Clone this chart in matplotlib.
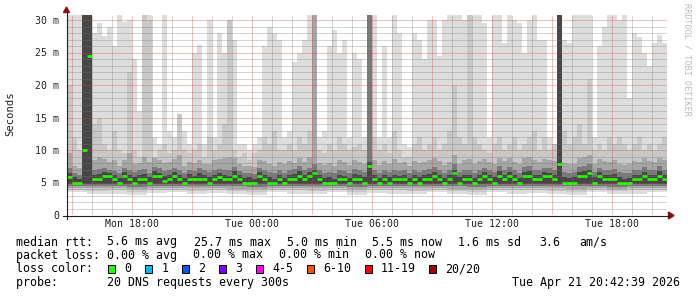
import numpy as np
import pandas as pd
import matplotlib
matplotlib.use("Agg")
import matplotlib.pyplot as plt
import matplotlib.dates as mdates
from matplotlib.patches import Rectangle, Polygon
from matplotlib.lines import Line2D

# ---------------- data (15-minute steps, ms) ----------------
start_time = "2026-04-20 14:45"
n_steps = 120

median_ms = [
    5.8, 5.0, 5.0, 10.0, 24.5, 5.5, 5.5, 6.0, 6.0, 5.5,
    5.0, 6.0, 5.5, 5.0, 5.5, 5.5, 5.0, 6.0, 6.0, 5.3,
    5.5, 6.0, 5.5, 5.0, 5.5, 5.5, 5.5, 5.5, 5.0, 5.5,
    5.8, 5.5, 5.5, 6.0, 5.5, 5.0, 5.0, 5.0, 6.0, 5.5,
    5.0, 5.0, 5.5, 5.0, 5.5, 5.5, 6.0, 5.5, 6.0, 6.4,
    5.5, 5.0, 5.0, 5.0, 5.5, 5.5, 5.0, 5.5, 5.5, 5.0,
    7.5, 5.5, 5.0, 5.5, 5.0, 5.5, 5.5, 5.5, 5.0, 5.5,
    5.0, 5.5, 5.5, 6.0, 5.5, 5.0, 5.5, 6.4, 5.0, 5.5,
    5.5, 5.0, 5.5, 6.0, 5.5, 5.0, 6.0, 5.5, 6.0, 5.5,
    5.0, 6.0, 6.0, 5.5, 5.5, 6.0, 6.0, 5.5, 7.8, 5.0,
    5.0, 5.0, 6.0, 6.0, 6.4, 5.0, 6.0, 5.5, 5.5, 5.5,
    5.0, 5.0, 5.0, 5.5, 5.5, 6.0, 5.5, 5.5, 6.0, 5.5,
]

smoke_max = [
    31, 31, 31, 31, 31, 28, 29.5, 27.5, 29, 26,
    31, 29.7, 30, 24, 16, 31, 31, 12, 11, 31,
    13, 12, 15.5, 13, 11, 25, 26.2, 11, 30, 12,
    28, 25, 30, 27, 11, 11, 10, 11, 12, 26,
    29, 28, 27, 12, 13, 23.5, 25, 27, 31, 31,
    12, 13, 26, 28.5, 25, 27, 12, 25, 24, 12,
    31, 31, 12, 26, 12, 31, 28, 11, 10.5, 28,
    27, 24, 30, 30, 24.4, 30, 31, 31, 31, 30,
    31, 31, 31, 29.5, 12, 31, 31, 26.4, 31, 30,
    29.5, 25, 30, 31, 27, 27, 12, 11, 31, 27,
    26.5, 31, 31, 31, 31, 12, 26, 29, 31, 31,
    30, 31, 18, 28, 27.4, 25, 23, 26.4, 27.7, 26.4,
]

smoke_hi2 = [
    20, 12, 10, 31, 31, 14, 15, 11, 10, 13,
    10, 9.5, 22, 10, 9, 31, 30, 9, 10, 11,
    9.5, 10, 15.5, 10, 9.5, 10, 11, 9, 12, 10,
    11, 14, 30, 10, 9, 9.5, 8.5, 9.5, 10, 12,
    11, 13, 10, 10, 11, 10, 12, 11, 13, 31,
    10, 9.5, 11, 10, 12, 11, 10, 10.5, 11, 10,
    31, 12, 10, 11, 9.5, 13, 10, 9, 9, 11,
    12, 10, 11, 12, 10, 11, 13, 20, 12, 11,
    31, 12, 11, 10, 9.5, 11, 12, 10, 11, 12,
    10, 11, 12, 13, 10, 12, 10, 11, 31, 13,
    11, 12, 14, 11, 21, 10, 11, 10, 12, 11,
    12, 11, 10, 11, 12, 10, 11, 10, 11, 12,
]

smoke_hi3 = [
    9.5, 7.5, 7.2, 31, 31, 8.5, 9.0, 8.6, 8.2, 8.4,
    7.6, 8.4, 9.5, 7.8, 8.0, 9.0, 8.2, 8.8, 8.4, 8.0,
    8.2, 8.6, 9.2, 7.6, 8.1, 8.0, 8.5, 7.9, 7.8, 8.4,
    8.6, 8.8, 9.0, 8.7, 7.9, 7.5, 7.6, 7.4, 8.5, 8.3,
    7.8, 7.6, 8.2, 7.8, 8.3, 8.0, 8.8, 8.2, 8.9, 31,
    8.0, 7.7, 8.0, 7.6, 8.4, 8.1, 7.7, 8.4, 8.2, 7.8,
    31, 8.4, 7.7, 8.3, 7.9, 8.6, 8.0, 8.2, 7.6, 8.3,
    8.0, 8.2, 8.4, 8.8, 8.3, 7.7, 8.2, 9.2, 7.9, 8.4,
    8.6, 7.8, 8.3, 8.6, 8.1, 7.9, 8.8, 8.3, 8.7, 8.2,
    7.8, 8.7, 8.9, 8.4, 8.2, 8.6, 8.5, 8.3, 31, 8.0,
    7.8, 7.9, 8.8, 8.9, 9.3, 7.8, 8.6, 8.3, 8.2, 8.4,
    7.9, 7.7, 7.8, 8.3, 8.2, 8.7, 8.3, 8.1, 8.8, 8.4,
]

smoke_hi4 = [
    7.2, 6.4, 6.2, 31, 31, 7.0, 7.1, 7.3, 7.0, 6.8,
    6.5, 7.2, 7.0, 6.6, 6.9, 7.1, 6.5, 7.4, 7.2, 6.8,
    7.0, 7.3, 6.9, 6.4, 7.0, 6.8, 7.2, 6.9, 6.6, 7.0,
    7.1, 7.0, 6.9, 7.4, 6.8, 6.4, 6.5, 6.3, 7.2, 6.9,
    6.6, 6.4, 7.0, 6.5, 6.9, 7.1, 7.5, 6.9, 7.3, 7.8,
    6.9, 6.5, 6.6, 6.4, 7.0, 6.8, 6.5, 7.1, 6.9, 6.6,
    31, 7.0, 6.5, 6.9, 6.6, 7.0, 6.8, 6.9, 6.5, 7.0,
    6.6, 6.9, 7.1, 7.4, 7.0, 6.5, 6.9, 7.8, 6.6, 7.0,
    6.9, 6.5, 7.0, 7.3, 6.9, 6.6, 7.5, 7.0, 7.4, 6.9,
    6.5, 7.4, 7.5, 7.0, 6.9, 7.3, 7.2, 7.0, 31, 6.6,
    6.5, 6.6, 7.4, 7.5, 7.8, 6.6, 7.3, 7.0, 6.9, 7.1,
    6.6, 6.4, 6.5, 7.0, 6.9, 7.4, 7.0, 6.9, 7.5, 7.0,
]

smoke_hi5 = [
    6.4, 5.8, 5.6, 31, 31, 6.2, 6.3, 6.6, 6.5, 6.1,
    5.7, 6.6, 6.2, 5.8, 6.1, 6.3, 5.8, 6.7, 6.5, 6.0,
    6.2, 6.6, 6.1, 5.7, 6.3, 6.0, 6.4, 6.1, 5.8, 6.2,
    6.4, 6.2, 6.0, 6.7, 6.1, 5.7, 5.8, 5.6, 6.6, 6.2,
    5.8, 5.6, 6.2, 5.7, 6.1, 6.3, 6.7, 6.1, 6.6, 7.0,
    6.1, 5.7, 5.8, 5.6, 6.2, 6.0, 5.7, 6.3, 6.1, 5.8,
    8.2, 6.2, 5.7, 6.1, 5.8, 6.2, 6.0, 6.1, 5.7, 6.2,
    5.8, 6.1, 6.3, 6.6, 6.2, 5.7, 6.1, 7.0, 5.8, 6.2,
    6.1, 5.7, 6.2, 6.6, 6.1, 5.8, 6.7, 6.2, 6.6, 6.1,
    5.7, 6.6, 6.7, 6.2, 6.1, 6.6, 6.5, 6.2, 31, 5.8,
    5.7, 5.8, 6.6, 6.7, 7.0, 5.8, 6.6, 6.2, 6.1, 6.3,
    5.8, 5.6, 5.7, 6.2, 6.1, 6.6, 6.2, 6.1, 6.7, 6.2,
]

# lower side of the smoke, read hourly (30 hours)
smoke_lo5_hourly = [4.8, 4.7, 4.8, 4.7, 4.7, 4.8, 4.7, 4.8, 4.7, 4.7, 4.8, 4.7, 4.7, 4.8, 4.7,
                    4.8, 4.7, 4.7, 4.8, 4.7, 4.7, 4.8, 4.7, 4.8, 4.7, 4.7, 4.8, 4.7, 4.7, 4.8]
smoke_lo4_hourly = [4.5, 4.4, 4.5, 4.3, 4.4, 4.5, 4.4, 4.5, 4.4, 4.3, 4.5, 4.4, 4.4, 4.5, 4.3,
                    4.5, 4.4, 4.4, 4.5, 4.4, 4.3, 4.5, 4.4, 4.5, 4.4, 4.4, 4.5, 4.3, 4.4, 4.5]
smoke_lo3_hourly = [4.2, 4.1, 4.2, 4.0, 4.1, 4.2, 4.1, 4.2, 4.0, 4.0, 4.2, 4.1, 4.1, 4.2, 4.0,
                    4.2, 4.1, 4.1, 4.2, 4.0, 4.0, 4.2, 4.1, 4.2, 4.1, 4.0, 4.2, 4.0, 4.1, 4.2]
smoke_lo2_hourly = [3.9, 3.7, 3.8, 3.6, 3.8, 3.9, 3.7, 3.8, 3.7, 3.6, 3.9, 3.8, 3.7, 3.9, 3.6,
                    3.9, 3.8, 3.7, 3.9, 3.7, 3.6, 3.9, 3.8, 3.9, 3.7, 3.6, 3.9, 3.7, 3.8, 3.9]
smoke_min_hourly = [3.5, 3.2, 3.3, 3.1, 3.4, 3.5, 3.2, 3.4, 3.3, 3.1, 3.5, 3.3, 3.2, 3.5, 3.1,
                    3.4, 3.3, 3.2, 3.5, 3.2, 3.1, 3.5, 3.3, 3.4, 3.2, 3.1, 3.5, 3.2, 3.3, 3.5]

y_ticks = [0, 5, 10, 15, 20, 25, 30]
y_tick_labels = ["0", "5 m", "10 m", "15 m", "20 m", "25 m", "30 m"]
x_tick_times = ["2026-04-20 18:00", "2026-04-21 00:00", "2026-04-21 06:00",
                "2026-04-21 12:00", "2026-04-21 18:00"]
x_tick_labels = ["Mon 18:00", "Tue 00:00", "Tue 06:00", "Tue 12:00", "Tue 18:00"]

loss_labels = ["0", "1", "2", "3", "4-5", "6-10", "11-19", "20/20"]
loss_colors = ["#26ff00", "#00b8ff", "#0059ff", "#7e00ff", "#ff00ff",
               "#ff5500", "#ff0000", "#a10000"]

rtt_label = "median rtt:"
rtt_parts = ["5.6 ms avg", "25.7 ms max", "5.0 ms min", "5.5 ms now", "1.6 ms sd", "3.6", "am/s"]
loss_label = "packet loss:"
loss_parts = ["0.00 % avg", "0.00 % max", "0.00 % min", "0.00 % now"]
color_label = "loss color:"
line_probe = "probe:       20 DNS requests every 300s"
stamp = "Tue Apr 21 20:42:39 2026"
watermark = "RRDTOOL / TOBI OETIKER"

# ---------------- figure ----------------
W, H = 697, 297
fig = plt.figure(figsize=(W / 100, H / 100), dpi=100)
fig.patch.set_facecolor("white")
MONO = "DejaVu Sans Mono"


def fx(x):
    return x / W


def fy(y):
    return 1 - y / H


ymax = 200 / 6.5
ax = fig.add_axes([fx(67), fy(215), (667 - 67) / W, 200 / H])
ax.set_facecolor("white")

times = pd.date_range(start_time, periods=n_steps + 1, freq="15min")
t = mdates.date2num(times.to_pydatetime())


def ext(a):
    a = np.asarray(a, dtype=float)
    return np.append(a, a[-1])


def hourly(a):
    return np.repeat(np.asarray(a, dtype=float), 4)[:n_steps]


levels = [
    (hourly(smoke_min_hourly), smoke_max, "#dddddd"),
    (hourly(smoke_lo2_hourly), smoke_hi2, "#c8c8c8"),
    (hourly(smoke_lo3_hourly), smoke_hi3, "#a6a6a6"),
    (hourly(smoke_lo4_hourly), smoke_hi4, "#7a7a7a"),
    (hourly(smoke_lo5_hourly), smoke_hi5, "#474747"),
]
for i, (lo, hi, col) in enumerate(levels):
    ax.fill_between(t, ext(lo), ext(hi), step="post", color=col, lw=0,
                    zorder=1 + i * 0.1, antialiased=False)

# grid (dotted, 1px)
minor_col = (0.45, 0.45, 0.45, 0.3)
major_col = (0.85, 0.25, 0.25, 0.32)
hours = pd.date_range("2026-04-20 15:00", "2026-04-21 20:00", freq="1h")
for h in hours:
    xv = mdates.date2num(h.to_pydatetime())
    major = h.hour % 3 == 0
    ax.plot([xv, xv], [0, ymax], color=major_col if major else minor_col,
            lw=0.72, ls=(0, (1, 1)), zorder=3, antialiased=False)
for v in range(1, 31):
    major = v % 5 == 0
    ax.plot([t[0], t[-1]], [v, v], color=major_col if major else minor_col,
            lw=0.72, ls=(0, (1, 1)), zorder=3, antialiased=False)

# median bars
ax.hlines(median_ms, t[:-1], t[1:], colors="#26ff00", lw=1.9, zorder=4, capstyle="butt")

ax.set_xlim(t[0], t[-1])
ax.set_ylim(0, ymax)
for s in ax.spines.values():
    s.set_visible(False)
ax.set_yticks(y_ticks)
ax.set_yticklabels(y_tick_labels, fontfamily=MONO, fontsize=7.1, color="#222222")
ax.set_xticks(mdates.date2num(pd.to_datetime(x_tick_times).to_pydatetime()))
ax.set_xticklabels(x_tick_labels, fontfamily=MONO, fontsize=7.1, color="#222222")
ax.tick_params(axis="y", length=0, pad=5.5)
ax.tick_params(axis="x", length=0, pad=3.2)

# axes lines and arrows
fig.add_artist(Line2D([fx(66.5), fx(66.5)], [fy(219), fy(12)], color="#202020", lw=0.8))
fig.add_artist(Line2D([fx(63), fx(669)], [fy(215.5), fy(215.5)], color="#202020", lw=0.8))
fig.add_artist(Polygon([[fx(63.5), fy(12.5)], [fx(69.5), fy(12.5)], [fx(66.5), fy(7)]],
                       closed=True, color="#8b1010", transform=fig.transFigure))
fig.add_artist(Polygon([[fx(668.5), fy(212)], [fx(668.5), fy(219)], [fx(674), fy(215.5)]],
                       closed=True, color="#8b1010", transform=fig.transFigure))

# labels
fig.text(fx(10.5), fy(114), "Seconds", rotation=90, ha="center", va="center",
         fontfamily=MONO, fontsize=7.6, color="#222222")
fig.text(fx(687.5), fy(3), watermark, rotation=270, ha="center", va="top",
         fontfamily=MONO, fontsize=6.1, color="#bbbbbb")

lfs = 8.4


def ltext(x, y, s, ha="left"):
    fig.text(fx(x), fy(y), s, ha=ha, va="center", fontfamily=MONO, fontsize=lfs, color="black")


ltext(16, 242, rtt_label)
for xp, s in zip([107.3, 194, 286.7, 372.3, 458.3, 539, 579.3], rtt_parts):
    ltext(xp, 242, s)
ltext(16, 255, loss_label)
for xp, s in zip([107.3, 193.3, 279.3, 365.3], loss_parts):
    ltext(xp, 255, s)
ltext(16, 269, color_label)
ltext(16, 282.5, line_probe)
ltext(680, 282.5, stamp, ha="right")

bx = 108.3
for lab, col in zip(loss_labels, loss_colors):
    fig.add_artist(Rectangle((fx(bx), fy(273)), 7 / W, 8 / H, transform=fig.transFigure,
                             facecolor=col, edgecolor="black", lw=0.7))
    ltext(bx + 16, 269, lab)
    bx += 30.1 + len(lab) * 6.9

fig.savefig("out.png", dpi=100, facecolor="white")
